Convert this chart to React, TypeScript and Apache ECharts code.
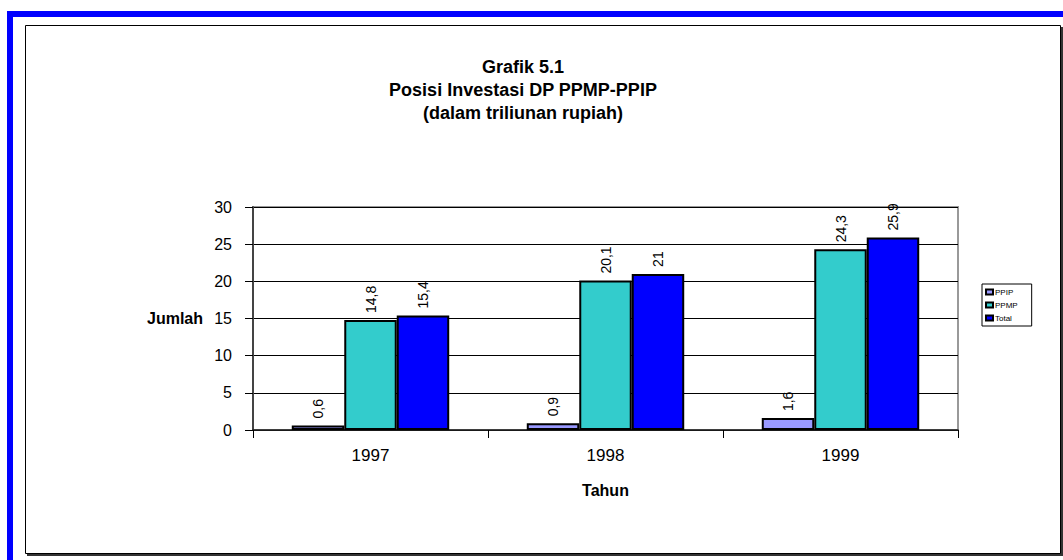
import React, { useEffect, useRef } from "react";
import * as echarts from "echarts";

const categories = ["1997", "1998", "1999"];
const ppip = [0.6, 0.9, 1.6];
const ppmp = [14.8, 20.1, 24.3];
const total = [15.4, 21, 25.9];
const seriesNames = ["PPIP", "PPMP", "Total"];
const yTicks = { min: 0, max: 30, interval: 5 };
const titleLines = ["Grafik 5.1", "Posisi Investasi DP PPMP-PPIP", "(dalam triliunan rupiah)"];

const FONT = '"Liberation Sans", Arial, sans-serif';

export default function App() {
  const ref = useRef<HTMLDivElement>(null);
  useEffect(() => {
    if (!ref.current) return;
    const chart = echarts.init(ref.current, null, { renderer: "svg" });
    const fmt = (p: any) => String(p.value).replace(".", ",");
    const label = {
      show: true,
      position: "top",
      rotate: 90,
      align: "left",
      verticalAlign: "middle",
      distance: 7,
      fontSize: 14,
      color: "#000",
      fontFamily: FONT,
      formatter: fmt,
    };
    const mk = (name: string, data: number[], color: string) => ({
      name,
      type: "bar",
      data,
      barGap: "0%",
      barCategoryGap: "33%",
      itemStyle: { color, borderColor: "#000", borderWidth: 2 },
      label,
    });
    chart.setOption({
      animation: false,
      textStyle: { fontFamily: FONT },
      graphic: [
        {
          type: "rect",
          z: -10,
          silent: true,
          shape: { x: 10, y: 14, width: 1100, height: 600 },
          style: { fill: "none", stroke: "#0000FF", lineWidth: 6 },
        },
        {
          type: "rect",
          z: -9,
          silent: true,
          shape: { x: 27, y: 27, width: 1036, height: 529 },
          style: { fill: "#333" },
        },
        {
          type: "rect",
          z: -8,
          silent: true,
          shape: { x: 25.5, y: 25.5, width: 1035, height: 528 },
          style: { fill: "#fff", stroke: "#000", lineWidth: 1 },
        },
      ],
      title: {
        text: titleLines.join("\n"),
        left: 523,
        top: 55,
        padding: 0,
        textAlign: "center",
        textStyle: { fontSize: 18, fontWeight: "bold", lineHeight: 23, color: "#000", fontFamily: FONT },
      },
      legend: {
        data: seriesNames,
        orient: "vertical",
        left: 982,
        top: 284,
        icon: "rect",
        itemWidth: 7,
        itemHeight: 5,
        itemGap: 5,
        padding: [4, 14, 4, 3],
        borderColor: "#000",
        borderWidth: 1,
        textStyle: { fontSize: 8, color: "#000", fontFamily: FONT, padding: [0, 0, 0, -3] },
      },
      grid: {
        left: 253,
        top: 207,
        right: 105,
        bottom: 130,
        show: true,
        borderColor: "#999",
        borderWidth: 2,
        backgroundColor: "transparent",
      },
      xAxis: {
        type: "category",
        data: categories,
        name: "Tahun",
        nameLocation: "middle",
        nameGap: 52,
        nameTextStyle: { fontSize: 16, fontWeight: "bold", color: "#000", fontFamily: FONT },
        axisLine: { lineStyle: { color: "#222", width: 1.5 } },
        axisTick: { show: true, length: 8, alignWithLabel: false, lineStyle: { color: "#000" } },
        axisLabel: { fontSize: 17, color: "#000", margin: 17, fontFamily: FONT },
      },
      yAxis: {
        type: "value",
        min: yTicks.min,
        max: yTicks.max,
        interval: yTicks.interval,
        name: "Jumlah",
        nameLocation: "middle",
        nameRotate: 0,
        nameGap: 50,
        nameTextStyle: { fontSize: 16, fontWeight: "bold", color: "#000", fontFamily: FONT },
        axisLine: { show: true, lineStyle: { color: "#444", width: 2 } },
        axisTick: { show: true, length: 8, lineStyle: { color: "#000" } },
        axisLabel: { fontSize: 16, color: "#000", margin: 21, fontFamily: FONT },
        splitLine: { show: true, lineStyle: { color: "#000", width: 1 } },
      },
      series: [
        mk(seriesNames[0], ppip, "#9999FF"),
        mk(seriesNames[1], ppmp, "#33CCCC"),
        mk(seriesNames[2], total, "#0000FF"),
      ],
    });
    return () => chart.dispose();
  }, []);
  return (
    <div
      ref={ref}
      style={{ position: "absolute", left: 0, top: 0, width: 1063, height: 560 }}
    />
  );
}
